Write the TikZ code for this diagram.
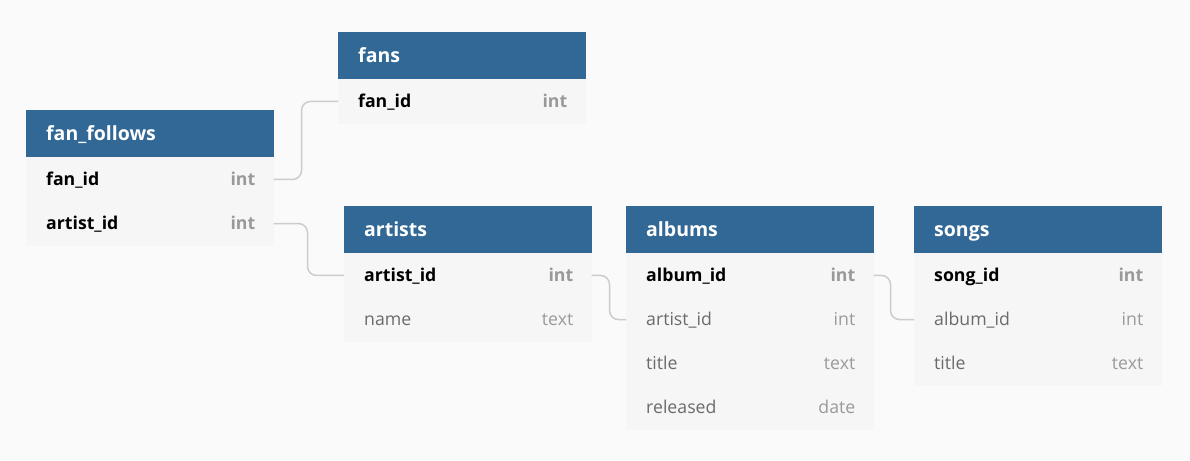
\documentclass[tikz,border=0pt]{standalone}
\usepackage{fontspec}
\setmainfont{Open Sans}
\definecolor{hdrblue}{HTML}{326895}
\definecolor{rowfill}{HTML}{F6F6F6}
\definecolor{pagebg}{HTML}{FAFAFA}
\definecolor{keytxt}{HTML}{000000}
\definecolor{keytype}{HTML}{999999}
\definecolor{fldtxt}{HTML}{6B6B6B}
\definecolor{fldtype}{HTML}{9A9A9A}
\definecolor{connc}{HTML}{CCCCCC}
\tikzset{
  tblbox/.style={fill=hdrblue, draw=hdrblue, line width=0.4pt, anchor=north west, inner sep=0pt,
    minimum width=247pt, minimum height=47pt},
  tbltitle/.style={text=white, font=\fontsize{19.5}{24}\selectfont\bfseries,
    anchor=base west, inner sep=0pt},
  tblrow/.style={fill=rowfill, draw=rowfill, line width=0.5pt, anchor=north west, inner sep=0pt,
    minimum width=247pt, minimum height=43.6pt},
  keyname/.style={text=keytxt, font=\fontsize{17.7}{22}\selectfont\bfseries, anchor=base west, inner sep=0pt},
  keytypename/.style={text=keytype, font=\fontsize{17.7}{22}\selectfont\bfseries, anchor=base east, inner sep=0pt},
  fldname/.style={text=fldtxt, font=\fontsize{17.7}{22}\selectfont, anchor=base west, inner sep=0pt},
  fldtypename/.style={text=fldtype, font=\fontsize{17.7}{22}\selectfont, anchor=base east, inner sep=0pt},
  conn/.style={draw=connc, line width=1.5pt, rounded corners=9pt}
}
% table header: #1 node name, #2 position, #3 title
\newcommand\erhead[3]{%
  \node[tblbox] (#1) at (#2) {};
  \node[tbltitle] (#1-t) at ([xshift=20pt,yshift=-30.5pt]#1.north west) {#3};}
% row: #1 node name, #2 node above, #3 field, #4 type, #5 key or fld
\newcommand\errow[5]{%
  \node[tblrow] (#1) at (#2.south west) {};
  \node[#5name] (#1-n) at ([xshift=20pt,yshift=-28pt]#1.north west) {#3};
  \node[#5typename] (#1-t) at ([xshift=-18pt,yshift=-28pt]#1.north east) {#4};}
\begin{document}
\begin{tikzpicture}[x=1pt,y=-1pt]
\fill[pagebg] (0,0) rectangle (1190,460);
\useasboundingbox (0,0) rectangle (1190,460);

% fans
\erhead{fans}{338,32}{fans}
\errow{fans-fanid}{fans}{fan\_id}{int}{key}

% fan_follows
\erhead{ff}{26,110}{fan\_follows}
\errow{ff-fanid}{ff}{fan\_id}{int}{key}
\errow{ff-artistid}{ff-fanid}{artist\_id}{int}{key}

% artists
\erhead{artists}{344,206}{artists}
\errow{ar-artistid}{artists}{artist\_id}{int}{key}
\errow{ar-name}{ar-artistid}{name}{text}{fld}

% albums
\erhead{albums}{626,206}{albums}
\errow{al-albumid}{albums}{album\_id}{int}{key}
\errow{al-artistid}{al-albumid}{artist\_id}{int}{fld}
\errow{al-title}{al-artistid}{title}{text}{fld}
\errow{al-released}{al-title}{released}{date}{fld}

% songs
\erhead{songs}{914,206}{songs}
\errow{so-songid}{songs}{song\_id}{int}{key}
\errow{so-albumid}{so-songid}{album\_id}{int}{fld}
\errow{so-title}{so-albumid}{title}{text}{fld}

% connectors
\draw[conn] (ff-fanid.east) -- ++(28,0) |- (fans-fanid.west);
\draw[conn] (ff-artistid.east) -- ++(34,0) |- (ar-artistid.west);
\draw[conn] (ar-artistid.east) -- ++(18,0) |- (al-artistid.west);
\draw[conn] (al-albumid.east) -- ++(17,0) |- (so-albumid.west);
\end{tikzpicture}
\end{document}
